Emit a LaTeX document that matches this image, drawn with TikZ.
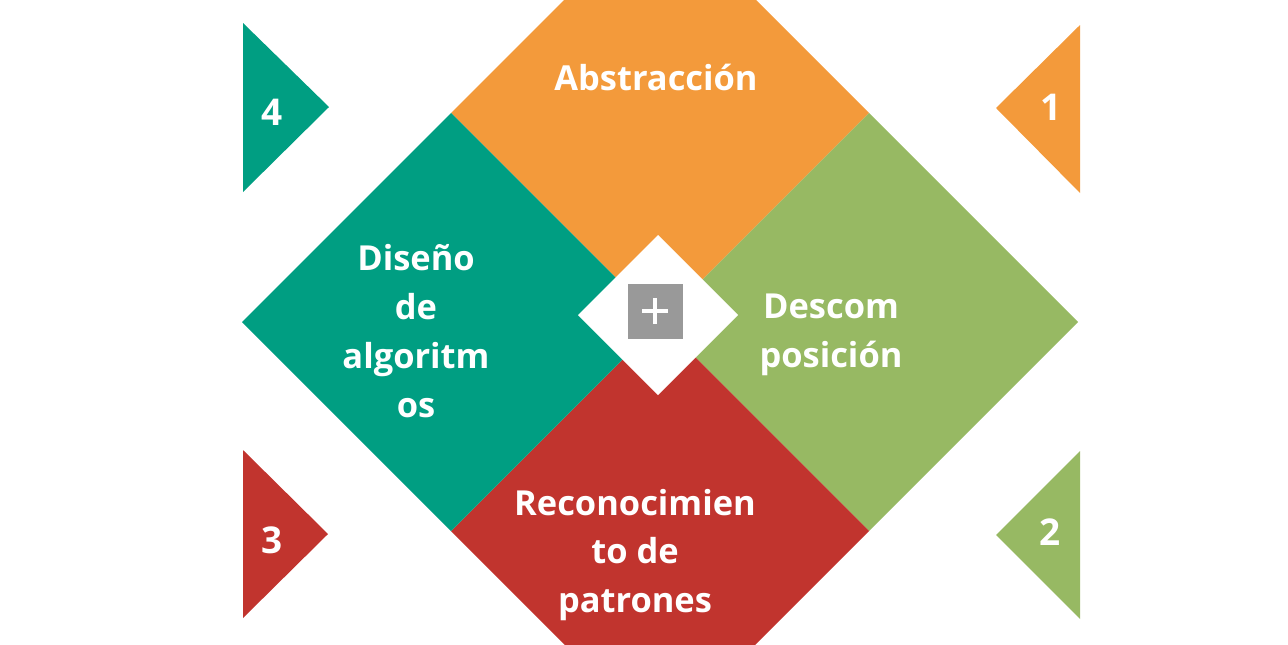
\documentclass[tikz,border=0pt]{standalone}
\usepackage{fontspec}
\setmainfont{Open Sans}
\usepackage{xcolor}
\definecolor{abstorange}{RGB}{243,154,59}
\definecolor{descgreen}{RGB}{151,185,99}
\definecolor{recored}{RGB}{193,52,46}
\definecolor{algoteal}{RGB}{0,158,130}
\definecolor{plusgray}{RGB}{153,153,153}

\begin{document}
\begin{tikzpicture}[x=0.2mm, y=-0.2mm,
  lbl/.style ={text=white, align=center,
               font=\fontsize{19.6}{27.8}\selectfont\bfseries},
  num/.style ={text=white, font=\fontsize{21}{26}\selectfont\bfseries},
  plusbox/.style={fill=plusgray, minimum size=11mm, inner sep=0pt},
]
  \useasboundingbox (0,0) rectangle (1288,644);
  \clip (0,0) rectangle (1288,644);

  % === Big diamonds ===
  \fill[abstorange] (660,-96) -- (869,113) -- (660,322) -- (451,113) -- cycle;
  \fill[descgreen]  (869,113) -- (1078,322) -- (869,531) -- (660,322) -- cycle;
  \fill[recored]    (660,322) -- (869,531) -- (660,740) -- (451,531) -- cycle;
  \fill[algoteal]   (451,113) -- (660,322) -- (451,531) -- (242,322) -- cycle;

  % Centre diamond
  \fill[white] (658,235) -- (738,315) -- (658,395) -- (578,315) -- cycle;
  \node[plusbox] (plus) at (655,311) {};
  \draw[white, line width=0.8mm]
    ([xshift=-2.6mm]plus.center) -- ([xshift=2.6mm]plus.center)
    ([yshift=-2.6mm]plus.center) -- ([yshift=2.6mm]plus.center);

  % === Labels ===
  \node[lbl] (abst) at (656,77)  {Abstracción};
  \node[lbl] (desc) at (831,335) {Descom\\posición};
  \node[lbl] (reco) at (635,555) {Reconocimien\\to de\\patrones};
  \node[lbl] (algo) at (416,331) {Diseño\\de\\algoritm\\os};

  % === Step markers ===
  \fill[abstorange] (1080,25)  -- (996,108) -- (1080,193) -- cycle;
  \fill[descgreen]  (1080,451) -- (996,535) -- (1080,619) -- cycle;
  \fill[recored]    (243,450)  -- (328,534) -- (243,618)  -- cycle;
  \fill[algoteal]   (243,23)   -- (329,107) -- (243,192)  -- cycle;

  \node[num] (n1) at (1051,107) {1};
  \node[num] (n2) at (1050,532) {2};
  \node[num] (n3) at (272,540)  {3};
  \node[num] (n4) at (272,112)  {4};

\end{tikzpicture}
\end{document}
